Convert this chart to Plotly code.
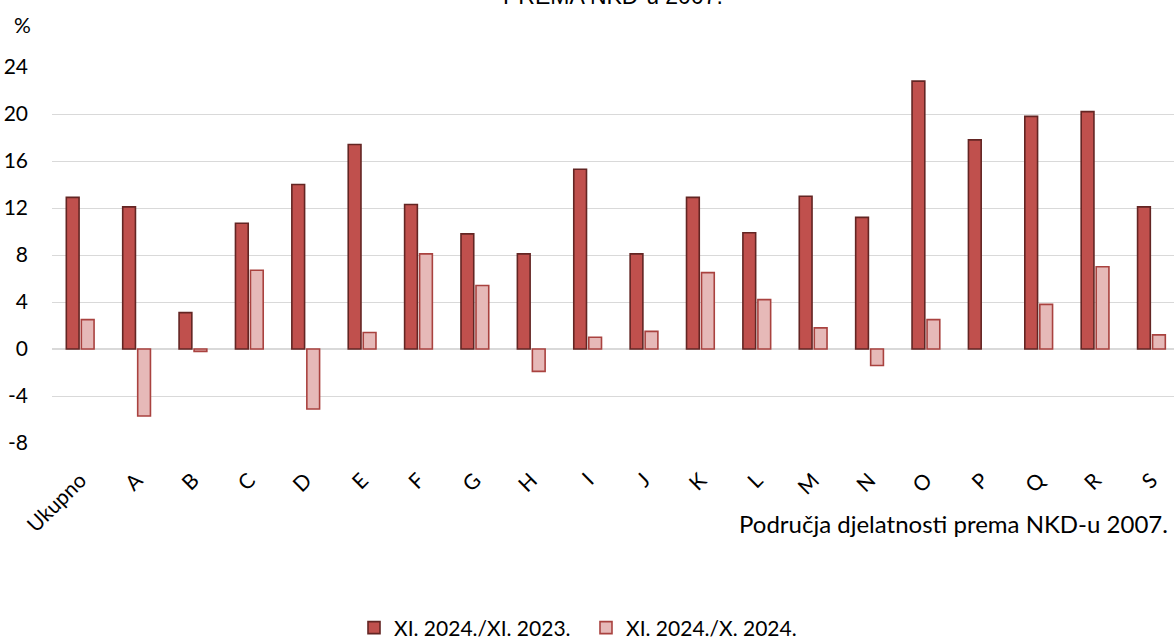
import plotly.graph_objects as go

categories = ["Ukupno", "A", "B", "C", "D", "E", "F", "G", "H", "I",
              "J", "K", "L", "M", "N", "O", "P", "Q", "R", "S"]
yoy = [12.9, 12.1, 3.1, 10.7, 14.0, 17.4, 12.3, 9.8, 8.1, 15.3,
       8.1, 12.9, 9.9, 13.0, 11.2, 22.8, 17.8, 19.8, 20.2, 12.1]
mom = [2.5, -5.7, -0.2, 6.7, -5.1, 1.4, 8.1, 5.4, -1.9, 1.0,
       1.5, 6.5, 4.2, 1.8, -1.4, 2.5, None, 3.8, 7.0, 1.2]
series_names = ["XI. 2024./XI. 2023.", "XI. 2024./X. 2024."]
y_ticks = [-8, -4, 0, 4, 8, 12, 16, 20, 24]
y_ticktext = ["-8", "-4", "0", "4", "8", "12", "16", "20", "24"]
title_text = "PREMA NKD-u 2007."
x_title = "Područja djelatnosti prema NKD-u 2007."
y_unit = "%"

FONT = "Lato"
W, H = 1174, 640
ML, MR, MT, MB = 52, 0, 67, 197
PW, PH = W - ML - MR, H - MT - MB

def px_x(x):
    return (x - ML) / PW

def px_y(y):
    return (H - MB - y) / PH

fig = go.Figure()
fig.add_trace(go.Bar(
    x=categories, y=yoy, name=series_names[0],
    marker=dict(color="#C0504D", line=dict(color="#632523", width=1.6)),
))
fig.add_trace(go.Bar(
    x=categories, y=mom, name=series_names[1],
    marker=dict(color="#E6B9B8", line=dict(color="#A9423F", width=1.6)),
))

fig.update_layout(
    width=W, height=H,
    margin=dict(l=ML, r=MR, t=MT, b=MB, pad=0, autoexpand=False),
    plot_bgcolor="white", paper_bgcolor="white",
    barmode="group", bargap=0.468, bargroupgap=0.15,
    font=dict(family=FONT, size=21, color="#000000"),
    showlegend=True,
    legend=dict(orientation="h", x=px_x(586), xanchor="center",
                y=px_y(628), yanchor="middle",
                font=dict(family=FONT, size=21, color="#000000"),
                itemwidth=30, tracegroupgap=0, entrywidth=187,
                entrywidthmode="pixels"),
    xaxis=dict(
        range=[-0.5, 19.4], tickangle=-45, showgrid=False, zeroline=False,
        showline=False, ticks="", tickfont=dict(family=FONT, size=21),
        ticklabelstandoff=20,
    ),
    yaxis=dict(
        range=[-8, 24], tickvals=y_ticks, ticktext=y_ticktext,
        showgrid=True, gridcolor="#D9D9D9",
        gridwidth=1.3, zeroline=True, zerolinecolor="#D9D9D9", zerolinewidth=1.6,
        showline=False, ticks="", tickfont=dict(family=FONT, size=21),
        ticklabelstandoff=23,
    ),
    annotations=[
        dict(text=title_text, xref="paper", yref="paper", x=px_x(613),
             y=px_y(11), xanchor="center", yanchor="bottom", showarrow=False,
             font=dict(family="Liberation Sans", size=23, color="#000000")),
        dict(text=y_unit, xref="paper", yref="paper", x=px_x(22),
             y=px_y(24), xanchor="center", yanchor="middle", showarrow=False,
             font=dict(family=FONT, size=21, color="#000000")),
        dict(text=x_title, xref="paper", yref="paper", x=px_x(1170),
             y=px_y(523), xanchor="right", yanchor="middle", showarrow=False,
             font=dict(family=FONT, size=24, color="#000000")),
    ],
)

fig.write_html("out.html", config={"displayModeBar": False},
               post_script="document.body.style.margin='0';document.body.style.overflow='hidden';")
